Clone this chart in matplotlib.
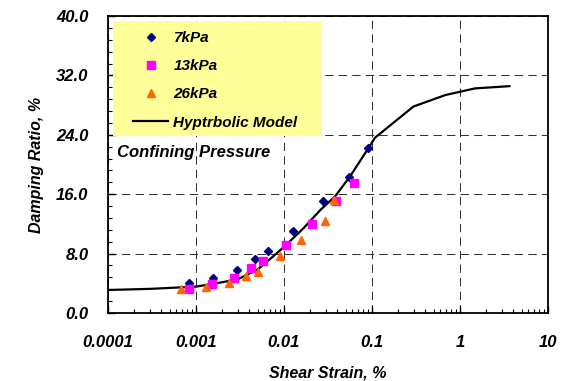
import matplotlib
matplotlib.use("Agg")
import matplotlib.pyplot as plt
from matplotlib.lines import Line2D
from matplotlib.patches import Rectangle
from matplotlib.ticker import LogLocator, MultipleLocator, FuncFormatter

plt.rcParams['font.family'] = ['Liberation Sans', 'DejaVu Sans']

# measured data (shear strain %, damping ratio %)
strain_7 = [0.00084, 0.00157, 0.00292, 0.00468, 0.0065, 0.0125, 0.028, 0.0552, 0.0908]
damp_7 = [4.08, 4.67, 5.79, 7.22, 8.34, 11.08, 15.1, 18.26, 22.16]

strain_13 = [0.00083, 0.00152, 0.00268, 0.00418, 0.0057, 0.0105, 0.0208, 0.0393, 0.0623]
damp_13 = [3.27, 3.95, 4.71, 6.06, 7.04, 9.19, 12.02, 15.1, 17.5]

strain_26 = [0.00068, 0.0013, 0.00237, 0.00366, 0.00503, 0.00893, 0.0157, 0.0296, 0.0374]
damp_26 = [3.27, 3.46, 4.08, 4.94, 5.52, 7.67, 9.83, 12.42, 15.2]

# hyperbolic model curve
model_strain = [0.0001, 0.0003, 0.001, 0.002, 0.003, 0.005, 0.007, 0.01, 0.0166,
                0.026, 0.038, 0.056, 0.091, 0.108, 0.295, 0.68, 1.48, 3.64]
model_damp = [3.1, 3.25, 3.55, 4.15, 4.55, 5.85, 7.3, 8.9, 11.4,
              13.9, 15.7, 18.35, 22.2, 23.6, 27.8, 29.35, 30.25, 30.55]

fig = plt.figure(figsize=(5.63, 3.81), dpi=100)
ax = fig.add_axes([108/563, 1-313/381, 440/563, 297/381])

ax.plot(model_strain, model_damp, color='black', lw=1.6, zorder=3)
ax.plot(strain_7, damp_7, linestyle='none', marker='D', ms=4.4, color='#000080', zorder=4)
ax.plot(strain_13, damp_13, linestyle='none', marker='s', ms=6, color='#FF00FF', zorder=4)
ax.plot(strain_26, damp_26, linestyle='none', marker='^', ms=6.2, color='#FF6600', zorder=4)

ax.set_xscale('log')
ax.set_xlim(0.0001, 10)
ax.set_ylim(0, 40)

ax.xaxis.set_major_locator(LogLocator(base=10))
ax.xaxis.set_minor_locator(LogLocator(base=10, subs=range(2, 10)))
ax.xaxis.set_major_formatter(FuncFormatter(lambda v, p: f"{v:g}" if v >= 0.001 else "0.0001"))
ax.yaxis.set_major_locator(MultipleLocator(8))
ax.yaxis.set_minor_locator(MultipleLocator(1.6))
ax.yaxis.set_major_formatter(FuncFormatter(lambda v, p: f"{v:.1f}"))

ax.tick_params(which='both', direction='in', top=False, right=False)
ax.tick_params(which='major', length=5, width=1, pad=14)
ax.tick_params(which='minor', length=3, width=0.8)
ax.tick_params(axis='x', which='major', pad=16)
for lab in ax.get_xticklabels() + ax.get_yticklabels():
    lab.set_fontsize(12)
    lab.set_fontweight('bold')
    lab.set_fontstyle('italic')

ax.grid(True, which='major', color='#333333', lw=0.75, linestyle=(0, (8, 5)))
for s in ax.spines.values():
    s.set_linewidth(1.3)

ax.set_xlabel("Shear Strain, %", fontsize=11.5, fontweight='bold', fontstyle='italic', labelpad=11)
ax.set_ylabel("Damping Ratio, %", fontsize=11.5, fontweight='bold', fontstyle='italic', labelpad=9)

# legend background
ax.add_patch(Rectangle((5/440, (313-136)/297), 209/440, 115/297, transform=ax.transAxes,
                       facecolor='#FFFF99', edgecolor='none', zorder=5))
handles = [
    Line2D([], [], linestyle='none', marker='D', ms=4.4, color='#000080'),
    Line2D([], [], linestyle='none', marker='s', ms=6, color='#FF00FF'),
    Line2D([], [], linestyle='none', marker='^', ms=6.2, color='#FF6600'),
    Line2D([], [], color='black', lw=1.6),
]
labels = ["7kPa", "13kPa", "26kPa", "Hyptrbolic Model"]
leg = ax.legend(handles, labels, loc='upper left', bbox_to_anchor=(25/440, (313-31)/297),
                frameon=False, borderpad=0, borderaxespad=0, labelspacing=0.93,
                handlelength=2.3, handletextpad=0.35, numpoints=1,
                prop={'size': 11, 'weight': 'bold', 'style': 'italic'})
leg.set_zorder(6)

ax.text((116.7-108)/440, (313-153)/297, "Confining Pressure", transform=ax.transAxes,
        ha='left', va='center', fontsize=12, fontweight='bold', fontstyle='italic', zorder=6)

fig.savefig("out.png", dpi=100)
